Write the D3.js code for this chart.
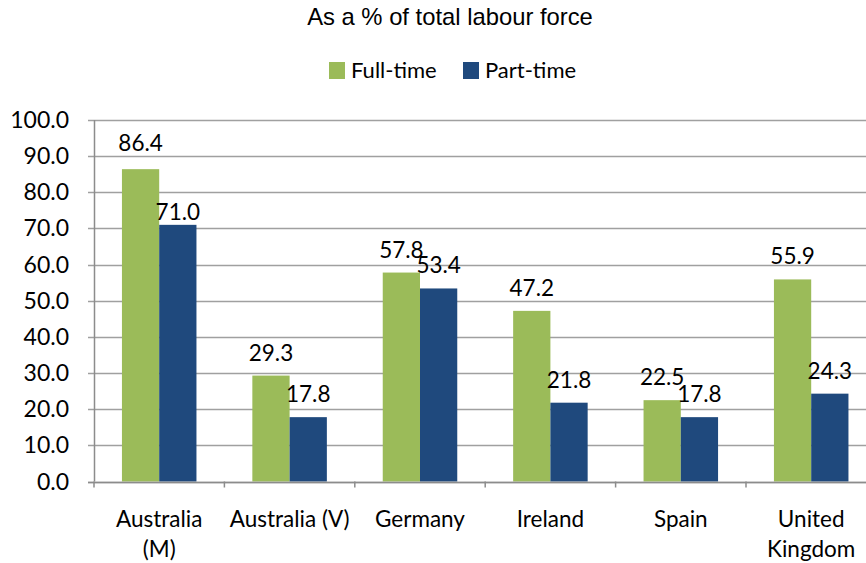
<!DOCTYPE html>
<html>
<head>
<meta charset="utf-8">
<script src="https://cdn.jsdelivr.net/npm/d3@7"></script>
<style>
  body { margin: 0; background: #fff; }
  text { font-family: Lato, "Open Sans", sans-serif; fill: #000; }
</style>
</head>
<body>
<div id="chart"></div>
<script>
// chart data
var categories = ["Australia (M)", "Australia (V)", "Germany", "Ireland", "Spain", "United Kingdom"];
var categoryLines = [["Australia", "(M)"], ["Australia (V)"], ["Germany"], ["Ireland"], ["Spain"], ["United", "Kingdom"]];
var series = ["Full-time", "Part-time"];
var fullTime = [86.4, 29.3, 57.8, 47.2, 22.5, 55.9];
var partTime = [71.0, 17.8, 53.4, 21.8, 17.8, 24.3];
var yTicks = [0, 10, 20, 30, 40, 50, 60, 70, 80, 90, 100];
var colors = ["#9bbb59", "#1f497d"];

var width = 866, height = 563;
var margin = {top: 120, left: 94, bottom: 81.5};
var plotRight = 876.4;

var svg = d3.select("#chart")
  .append("svg")
    .attr("width", width)
    .attr("height", height);

var x = d3.scaleBand()
  .domain(categories)
  .range([margin.left, plotRight]);

var xSub = d3.scaleBand()
  .domain(series)
  .range([0, x.bandwidth()])
  .paddingOuter(0.75);

var y = d3.scaleLinear()
  .domain([0, 100])
  .range([height - margin.bottom, margin.top]);

// gridlines
svg.append("g")
  .selectAll("line")
  .data(yTicks)
  .enter()
  .append("line")
    .attr("x1", margin.left - 6)
    .attr("x2", width)
    .attr("y1", function(d) { return Math.round(y(d)) + 0.5; })
    .attr("y2", function(d) { return Math.round(y(d)) + 0.5; })
    .style("stroke", "#a0a0a0")
    .style("stroke-width", 1.5);

// y axis line
svg.append("line")
  .attr("x1", margin.left + 0.5).attr("x2", margin.left + 0.5)
  .attr("y1", y(100)).attr("y2", y(0))
  .style("stroke", "#8c8c8c").style("stroke-width", 1.5);

// y tick labels
svg.append("g")
  .selectAll("text")
  .data(yTicks)
  .enter()
  .append("text")
    .attr("x", 69)
    .attr("y", function(d) { return y(d) + 8; })
    .attr("text-anchor", "end")
    .style("font-size", "23px")
    .text(function(d) { return d3.format(".1f")(d); });

// x category tick marks
var xTickPos = categories.map(function(c) { return x(c); }).concat([plotRight]);
svg.append("g")
  .selectAll("line")
  .data(xTickPos)
  .enter()
  .append("line")
    .attr("x1", function(d) { return d; })
    .attr("x2", function(d) { return d; })
    .attr("y1", y(0))
    .attr("y2", y(0) + 6)
    .style("stroke", "#8c8c8c").style("stroke-width", 1.5);

// bars
var rows = [];
categories.forEach(function(c, i) {
  rows.push({cat: c, s: series[0], v: fullTime[i], c: colors[0]});
  rows.push({cat: c, s: series[1], v: partTime[i], c: colors[1]});
});

svg.append("g")
  .selectAll("rect")
  .data(rows)
  .enter()
  .append("rect")
    .attr("x", function(d) { return x(d.cat) + xSub(d.s); })
    .attr("y", function(d) { return y(d.v); })
    .attr("width", xSub.bandwidth())
    .attr("height", function(d) { return y(0) - y(d.v); })
    .style("fill", function(d) { return d.c; });

// x axis line over the bars
svg.append("line")
  .attr("x1", margin.left - 6).attr("x2", width)
  .attr("y1", Math.round(y(0)) + 0.5).attr("y2", Math.round(y(0)) + 0.5)
  .style("stroke", "#8c8c8c").style("stroke-width", 1.5);

// value labels (one was dragged lower in the original)
var labelNudge = {"Australia (M)|Part-time": 10, "Australia (M)|Full-time": -3};
svg.append("g")
  .selectAll("text")
  .data(rows)
  .enter()
  .append("text")
    .attr("x", function(d) { return x(d.cat) + xSub(d.s) + xSub.bandwidth() / 2; })
    .attr("y", function(d) { return y(d.v) - 15 + (labelNudge[d.cat + "|" + d.s] || 0); })
    .attr("text-anchor", "middle")
    .style("font-size", "22.5px")
    .text(function(d) { return d3.format(".1f")(d.v); });

// category labels
var catG = svg.append("g")
  .selectAll("text")
  .data(categories)
  .enter()
  .append("text")
    .attr("text-anchor", "middle")
    .attr("x", function(d) { return x(d) + x.bandwidth() / 2; })
    .attr("y", 527)
    .style("font-size", "22.5px");
catG.selectAll("tspan")
  .data(function(d, i) { return categoryLines[i]; })
  .enter()
  .append("tspan")
    .attr("x", function() { return x(this.parentNode.__data__) + x.bandwidth() / 2; })
    .attr("dy", function(d, i) { return i === 0 ? 0 : 30; })
    .text(function(d) { return d; });

// title
svg.append("text")
  .attr("x", 450)
  .attr("y", 25)
  .attr("text-anchor", "middle")
  .style("font-family", "'Liberation Sans', Arial, sans-serif")
  .style("font-size", "23.8px")
  .text("As a % of total labour force");

// legend
var legend = svg.append("g")
  .selectAll("g")
  .data(series)
  .enter()
  .append("g")
    .attr("transform", function(d, i) { return "translate(" + (329 + i * 134) + ",62)"; });
legend.append("rect")
  .attr("width", 16).attr("height", 17)
  .style("fill", function(d, i) { return colors[i]; });
legend.append("text")
  .attr("x", 22).attr("y", 16)
  .style("font-size", "22px")
  .text(function(d) { return d; });
</script>
</body>
</html>
